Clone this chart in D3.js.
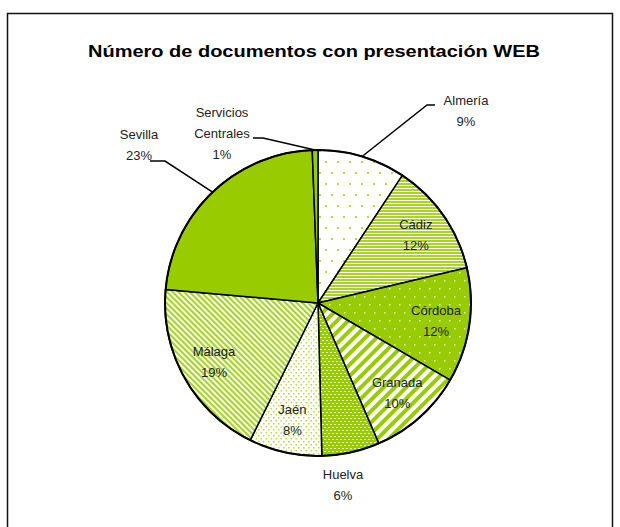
<!DOCTYPE html>
<html>
<head>
<meta charset="utf-8">
<script src="https://cdn.jsdelivr.net/npm/d3@7/dist/d3.min.js"></script>
<style>
  body { margin: 0; background: #fff; }
  text { font-family: "Liberation Sans", Arial, sans-serif; fill: #222; }
</style>
</head>
<body>
<svg id="chart" width="620" height="527"></svg>
<script>
// data (percent of documents)
const provincias = ["Almería", "Cádiz", "Córdoba", "Granada", "Huelva", "Jaén", "Málaga", "Sevilla", "Servicios Centrales"];
const valores = [9.3, 12.0, 12.1, 10.1, 6.1, 7.7, 19.1, 23.0, 0.6];
const patrones = ["dotsSparse", "hStripes", "greenDots", "wideDiag", "brick", "dotsDense", "thinDiag", "solid", "solid"];
const titulo = "Número de documentos con presentación WEB";

const GREEN = "#99cc00";
const W = 620, H = 527;
const cx = 318, cy = 303, R = 153;

// labels that sit outside the pie, offsets from the centre
const outsideLabels = {
  "Almería": { at: [148, -193], leader: [[109, -198], [117, -198]] },
  "Servicios Centrales": { at: [-96, -170], leader: [[-55, -165], [-65, -165]], lines: ["Servicios", "Centrales"] },
  "Sevilla": { at: [-179, -159], leader: [[-153, -142], [-168, -142]] },
  "Huelva": { at: [25, 181] }
};

const svg = d3.select("#chart");
svg.append("rect").attr("width", W).attr("height", H).attr("fill", "#fff");
// frame runs off the bottom of the picture
svg.append("rect")
  .attr("x", 7.5).attr("y", 13.5).attr("width", 605).attr("height", 530)
  .attr("fill", "none").attr("stroke", "#111").attr("stroke-width", 1.5);

// fill patterns
const defs = svg.append("defs");
function pat(id, w, h) {
  return defs.append("pattern").attr("id", id)
    .attr("patternUnits", "userSpaceOnUse").attr("width", w).attr("height", h);
}
let p = pat("dotsSparse", 12, 22);
p.append("rect").attr("width", 12).attr("height", 22).attr("fill", "#fff");
p.append("rect").attr("x", 1).attr("y", 1).attr("width", 2).attr("height", 2).attr("fill", "#b5dc3c");
p.append("rect").attr("x", 7).attr("y", 12).attr("width", 2).attr("height", 2).attr("fill", "#b5dc3c");

p = pat("hStripes", 4, 3);
p.append("rect").attr("width", 4).attr("height", 3).attr("fill", "#fff");
p.append("rect").attr("width", 4).attr("height", 2).attr("fill", "#a8d42a");

p = pat("greenDots", 10, 16);
p.append("rect").attr("width", 10).attr("height", 16).attr("fill", GREEN);
p.append("rect").attr("x", 1).attr("y", 1).attr("width", 1.5).attr("height", 1.5).attr("fill", "#e8f5c0");
p.append("rect").attr("x", 6).attr("y", 9).attr("width", 1.5).attr("height", 1.5).attr("fill", "#e8f5c0");

p = pat("wideDiag", 8, 8).attr("patternTransform", "rotate(45)");
p.append("rect").attr("width", 8).attr("height", 8).attr("fill", "#fff");
p.append("rect").attr("width", 4).attr("height", 8).attr("fill", GREEN);

p = pat("brick", 4, 6);
p.append("rect").attr("width", 4).attr("height", 6).attr("fill", GREEN);
p.append("rect").attr("x", 0).attr("y", 1).attr("width", 2).attr("height", 1).attr("fill", "#eef8d0");
p.append("rect").attr("x", 2).attr("y", 4).attr("width", 2).attr("height", 1).attr("fill", "#eef8d0");

p = pat("dotsDense", 5, 6);
p.append("rect").attr("width", 5).attr("height", 6).attr("fill", "#fff");
p.append("rect").attr("x", 0).attr("y", 0).attr("width", 1.5).attr("height", 1.5).attr("fill", "#b5dc3c");
p.append("rect").attr("x", 2.5).attr("y", 3).attr("width", 1.5).attr("height", 1.5).attr("fill", "#b5dc3c");

p = pat("thinDiag", 4, 4).attr("patternTransform", "rotate(-45)");
p.append("rect").attr("width", 4).attr("height", 4).attr("fill", "#fff");
p.append("rect").attr("width", 2.2).attr("height", 4).attr("fill", "#a8d42a");

// title
svg.append("text")
  .attr("x", 88).attr("y", 57)
  .attr("textLength", 452).attr("lengthAdjust", "spacingAndGlyphs")
  .style("font-size", "17px").style("font-weight", "bold").style("fill", "#000")
  .text(titulo);

// pie
const pie = d3.pie().sort(null).value(d => d);
const arcs = pie(valores);
const arc = d3.arc().innerRadius(0).outerRadius(R);
const labelArc = d3.arc().innerRadius(R * 0.78).outerRadius(R * 0.78);
const total = d3.sum(valores);

const g = svg.append("g").attr("transform", `translate(${cx},${cy})`);

g.selectAll(".slice")
  .data(arcs)
  .join("path")
  .attr("class", "slice")
  .attr("d", arc)
  .attr("fill", (d, i) => patrones[i] === "solid" ? GREEN : `url(#${patrones[i]})`)
  .attr("stroke", "#000")
  .attr("stroke-width", 1.5)
  .attr("stroke-linejoin", "round");

g.append("circle").attr("r", R).attr("fill", "none").attr("stroke", "#000").attr("stroke-width", 2);

// leader lines
arcs.forEach((d, i) => {
  const o = outsideLabels[provincias[i]];
  if (!o || !o.leader) return;
  const mid = (d.startAngle + d.endAngle) / 2;
  const start = [R * Math.sin(mid), -R * Math.cos(mid)];
  g.append("polyline")
    .attr("points", [start, ...o.leader].map(q => q.join(",")).join(" "))
    .attr("fill", "none").attr("stroke", "#000").attr("stroke-width", 1.5);
});

// labels
arcs.forEach((d, i) => {
  const name = provincias[i];
  const o = outsideLabels[name];
  const pct = Math.round(valores[i] / total * 100) + "%";
  const lines = (o && o.lines ? o.lines : [name]).concat([pct]);
  const pos = o ? o.at : labelArc.centroid(d);
  const lh = 21;
  const t = g.append("text")
    .attr("text-anchor", "middle")
    .style("font-size", "13px");
  lines.forEach((s, k) => {
    t.append("tspan")
      .attr("x", pos[0])
      .attr("y", pos[1] + (k - (lines.length - 1) / 2) * lh + 5)
      .text(s);
  });
});
</script>
</body>
</html>
